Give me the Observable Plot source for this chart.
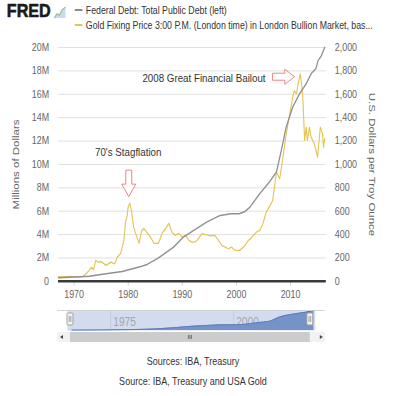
<!DOCTYPE html>
<html><head><meta charset="utf-8">
<script src="https://cdn.jsdelivr.net/npm/d3@7"></script>
<script src="https://cdn.jsdelivr.net/npm/@observablehq/plot@0.6"></script>
<style>
body{margin:0;background:#fff;width:398px;height:396px;overflow:hidden;position:relative;
 font-family:"Liberation Sans",Arial,sans-serif;}
#wrap{position:absolute;left:0;top:0;width:468px;height:396px;transform:scaleX(0.85);transform-origin:0 0;}
#logo{position:absolute;left:8px;top:0px;font-weight:bold;font-size:19px;letter-spacing:0px;color:#1a1a1a;-webkit-text-stroke:0.6px #1a1a1a;}
#icon{position:absolute;left:63px;top:6px;}
.leg{position:absolute;left:88px;font-size:10.3px;color:#333;white-space:nowrap;}
.sw{display:inline-block;width:9px;height:1.8px;vertical-align:middle;margin-right:4px;position:relative;top:-1px;}
#main{position:absolute;left:0;top:40px;}
#nav{position:absolute;left:0;top:305px;}
.cap{position:absolute;left:0;width:454px;text-align:center;font-size:10.6px;color:#333;}
</style></head><body>
<div id="wrap">
<div id="logo">FRED</div>
<svg id="icon" width="15" height="13"><polygon points="1,12 4,8 7,9 10,4 14,1 14,12" fill="#b9d3e8" opacity="0.8"/><polyline points="1,12 4,8 7,9 10,4 14,1" fill="none" stroke="#9ec3a0" stroke-width="1.5"/></svg>
<div class="leg" style="top:5px"><span class="sw" style="background:#8c8c8c"></span>Federal Debt: Total Public Debt (left)</div>
<div class="leg" style="top:20px"><span class="sw" style="background:#e5c453"></span>Gold Fixing Price 3:00 P.M. (London time) in London Bullion Market, bas...</div>
<div id="main"></div>
<div id="nav"></div>
<div class="cap" style="top:355px">Sources: IBA, Treasury</div>
<div class="cap" style="top:375px">Source: IBA, Treasury and USA Gold</div>
</div>
<script>
// Federal debt, millions of dollars (in "M" = millions of millions)
const debtYears = [1967.1,1970,1972.8,1975.9,1978.9,1982,1983.5,1985.4,1988.4,1990.2,1992.1,1994.5,1997,1999,2000.5,2001.5,2002.5,2004.3,2006.1,2007.4,2008.3,2009.2,2010.4,2011.6,2012.9,2013.8,2014.7,2015.1,2015.7,2016.3];
const debtValues = [0.32,0.37,0.43,0.66,0.85,1.22,1.45,1.94,2.93,3.79,4.36,5.07,5.64,5.78,5.78,5.95,6.35,7.5,8.5,9.35,11.2,13.2,14.9,16.0,16.9,17.75,18.2,18.9,19.3,20.0];
// Gold fixing price, U.S. dollars per troy ounce
const goldYears = [1967.1,1968.5,1969.5,1970.5,1971.7,1972.8,1973.2,1973.6,1974.0,1974.4,1975.0,1975.9,1976.8,1977.5,1978.0,1978.6,1979.2,1979.5,1979.8,1980.0,1980.3,1980.6,1981.0,1981.3,1982.0,1982.5,1982.9,1983.4,1984.1,1984.8,1985.6,1986.3,1986.9,1987.5,1988.1,1988.7,1989.3,1990.0,1990.6,1991.2,1991.8,1992.5,1993.0,1993.6,1994.5,1995.3,1996.0,1996.7,1997.3,1998.5,1999.1,1999.6,2000.0,2000.6,2001.6,2002.2,2002.7,2003.1,2003.7,2004.3,2004.9,2005.5,2006.1,2006.4,2006.7,2007.4,2008.0,2008.6,2009.2,2009.8,2010.4,2010.7,2011.1,2011.4,2011.8,2012.1,2012.3,2012.6,2012.9,2013.1,2013.5,2013.8,2014.4,2015.0,2015.5,2015.9,2016.1,2016.3];
const goldValues = [38,40,42,36,42,94,122,100,180,165,170,137,165,150,208,239,350,507,560,640,667,607,464,421,325,436,453,421,379,325,325,416,450,496,421,393,410,379,393,350,336,340,367,407,398,390,393,350,307,279,293,270,265,265,307,350,370,393,421,436,493,593,640,664,693,935,878,1063,1262,1419,1575,1632,1604,1690,1775,1661,1547,1205,1319,1205,1319,1234,1177,1063,1319,1262,1148,1222];

const xTicks = [1970,1980,1990,2000,2010];
const yTicks = [0,2,4,6,8,10,12,14,16,18,20];
const leftTickLabels = ["0","2M","4M","6M","8M","10M","12M","14M","16M","18M","20M"];
const rightTickLabels = ["0","200","400","600","800","1,000","1,200","1,400","1,600","1,800","2,000"];
const goldMax = 2000, debtMax = 20; // right axis top ↔ left axis top

const annoText = ["70's Stagflation","2008 Great Financial Bailout"];
const annoX = [1980.0, 1994.0];
const annoY = [11.0, 17.4];
const arrowX = [1980.1, 2008.7];
const arrowY = [8.4, 17.5];
const arrowDir = ["down","right"];
const navLabels = [1975, 2000];

const debt = debtYears.map((x,i)=>({x, y: debtValues[i]}));
const gold = goldYears.map((x,i)=>({x, y: goldValues[i] * debtMax / goldMax}));
const annos = annoText.map((t,i)=>({t, x: annoX[i], y: annoY[i]}));
const arrows = arrowDir.map((d,i)=>({d, x: arrowX[i], y: arrowY[i]}));

const S = 0.85; // page is drawn in a horizontally compressed frame
const px = v => v / S;

const downArrow = {draw(c){c.moveTo(-3.5,-13);c.lineTo(3.5,-13);c.lineTo(3.5,1);c.lineTo(8.2,1);c.lineTo(0,13.5);c.lineTo(-8.2,1);c.lineTo(-3.5,1);c.closePath();}};
const rightArrow = {draw(c){c.moveTo(-13,-3.5);c.lineTo(1.5,-3.5);c.lineTo(1.5,-7.5);c.lineTo(13,0);c.lineTo(1.5,7.5);c.lineTo(1.5,3.5);c.lineTo(-13,3.5);c.closePath();}};

const font = '"Liberation Sans",Arial,sans-serif';

const main = Plot.plot({
  width: px(398), height: 265,
  marginTop: 7, marginBottom: 24, marginLeft: px(58), marginRight: px(72),
  x: {domain: [1967.1, 2016.6]},
  y: {domain: [0, 20]},
  style: {fontFamily: font, fontSize: "10.5px", color: "#666", background: "transparent", overflow: "visible"},
  marks: [
    Plot.gridY(yTicks, {stroke: "#dedede", strokeOpacity: 1}),
    Plot.axisY(yTicks, {anchor: "left", tickSize: 0, tickPadding: 11, label: null,
      tickFormat: d => leftTickLabels[yTicks.indexOf(d)]}),
    Plot.axisY(yTicks, {anchor: "right", tickSize: 0, tickPadding: 10, label: null,
      tickFormat: d => rightTickLabels[yTicks.indexOf(d)]}),
    Plot.axisX(xTicks, {tickSize: 5, stroke: "#ccd6eb", tickPadding: 4, label: null, tickFormat: d => String(d)}),
    Plot.line(gold, {x: "x", y: "y", stroke: "#e5c453", strokeWidth: 1.3}),
    Plot.line(debt, {x: "x", y: "y", stroke: "#909090", strokeWidth: 1.5}),
    Plot.ruleY([0], {stroke: "#3a3a3a", strokeWidth: 2.5}),
    Plot.text(annos, {x: "x", y: "y", text: "t", fontSize: 11.5, fill: "#333"}),
    Plot.dot(arrows.filter(a => a.d === "down"), {x: "x", y: "y", r: 5, symbol: downArrow, fill: "white", stroke: "#f07878", strokeWidth: 1}),
    Plot.dot(arrows.filter(a => a.d === "right"), {x: "x", y: "y", r: 5, symbol: rightArrow, fill: "white", stroke: "#f07878", strokeWidth: 1}),
    Plot.text(["Millions of Dollars"], {frameAnchor: "left", textAnchor: "middle", dx: px(-43), rotate: -90, fontSize: 11.5, fill: "#666"}),
    Plot.text(["U.S. Dollars per Troy Ounce"], {frameAnchor: "right", textAnchor: "middle", dx: px(46), rotate: 90, fontSize: 11.5, fill: "#666"})
  ]
});
document.getElementById("main").append(main);

// Navigator
const nav = Plot.plot({
  width: px(398), height: 40,
  marginTop: 5, marginBottom: 15, marginLeft: px(67), marginRight: px(83),
  x: {domain: [1966.2, 2016.6], axis: null},
  y: {domain: [0, 20], axis: null},
  style: {fontFamily: font, background: "transparent", overflow: "visible"},
  marks: [
    Plot.frame({fill: "#d3dcee", stroke: null}),
    Plot.ruleX(navLabels, {stroke: "#c3cde0"}),
    Plot.text(navLabels, {x: d => d, text: d => String(d), frameAnchor: "bottom", textAnchor: "start", dx: 3, dy: -4, fontSize: 12, fill: "#a5a5a5"}),
    Plot.areaY(debt, {x: "x", y: "y", fill: "#7593c9"}),
    Plot.lineY(debt, {x: "x", y: "y", stroke: "#5a7cbd", strokeWidth: 1})
  ]
});
document.getElementById("nav").append(nav);
(function decorate(){
  const g = d3.select(nav).append("g");
  g.append("line").attr("x1",px(57)).attr("x2",px(325)).attr("y1",5.5).attr("y2",5.5).attr("stroke","#cfcfcf");
  [70,310].forEach(x=>{
    const cx = px(x);
    g.append("rect").attr("x",cx-3.5).attr("y",8).attr("width",7).attr("height",12).attr("rx",1.5)
      .attr("fill","#f4f4f4").attr("stroke","#999");
    g.append("line").attr("x1",cx-1).attr("x2",cx-1).attr("y1",11).attr("y2",17).attr("stroke","#999");
    g.append("line").attr("x1",cx+1).attr("x2",cx+1).attr("y1",11).attr("y2",17).attr("stroke","#999");
  });
  g.append("rect").attr("x",px(57)).attr("y",27).attr("width",px(268)).attr("height",10).attr("fill","#f2f2f2");
  g.append("rect").attr("x",px(70)).attr("y",27).attr("width",px(240)).attr("height",10).attr("fill","#cccccc");
  [-1.8,0,1.8].forEach(o=>g.append("line").attr("x1",px(190)+o).attr("x2",px(190)+o).attr("y1",30).attr("y2",34).attr("stroke","#555").attr("stroke-width",0.8));
  g.append("path").attr("d",`M${px(63)},30 L${px(60)},32 L${px(63)},34 Z`).attr("fill","#444");
  g.append("path").attr("d",`M${px(320)},30 L${px(323)},32 L${px(320)},34 Z`).attr("fill","#444");
})();
</script>
</body></html>
